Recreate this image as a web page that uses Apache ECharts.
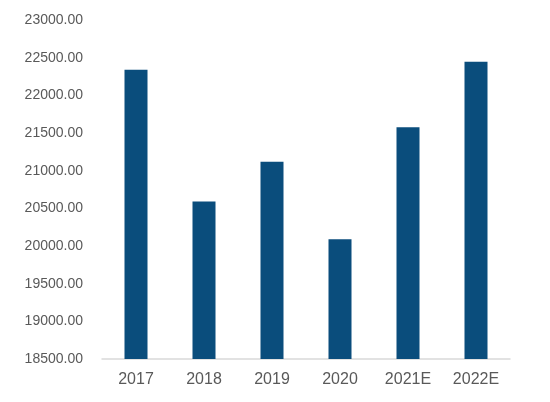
<!DOCTYPE html>
<html>
<head>
<meta charset="utf-8">
<script src="https://cdn.jsdelivr.net/npm/echarts@6/dist/echarts.min.js"></script>
<style>
  html, body { margin: 0; padding: 0; background: #fff; }
  #chart { width: 550px; height: 402px; }
</style>
</head>
<body>
<div id="chart"></div>
<script>
// data
const years = ['2017', '2018', '2019', '2020', '2021E', '2022E'];
const values = [22340, 20590, 21120, 20090, 21575, 22445];

const yMin = 18500;
const yMax = 23000;
const yStep = 500;

let myChart = echarts.init(document.getElementById('chart'));
let option = {
    animation: false,
    grid: { left: 102, right: 40, top: 20, bottom: 43 },
    xAxis: {
        type: 'category',
        data: years,
        axisLine: { lineStyle: { color: '#d9d9d9', width: 1.5 } },
        axisTick: { show: false },
        axisLabel: { color: '#595959', fontSize: 16, margin: 13, fontFamily: 'Liberation Sans' }
    },
    yAxis: {
        type: 'value',
        min: yMin,
        max: yMax,
        interval: yStep,
        axisLine: { show: false },
        axisTick: { show: false },
        splitLine: { show: false },
        axisLabel: {
            color: '#595959',
            fontSize: 14,
            margin: 19,
            fontFamily: 'Liberation Sans',
            formatter: v => v.toFixed(2)
        }
    },
    series: [{
        type: 'bar',
        data: values,
        barWidth: 23,
        itemStyle: { color: '#0a4d7c' }
    }]
};
myChart.setOption(option);
</script>
</body>
</html>
